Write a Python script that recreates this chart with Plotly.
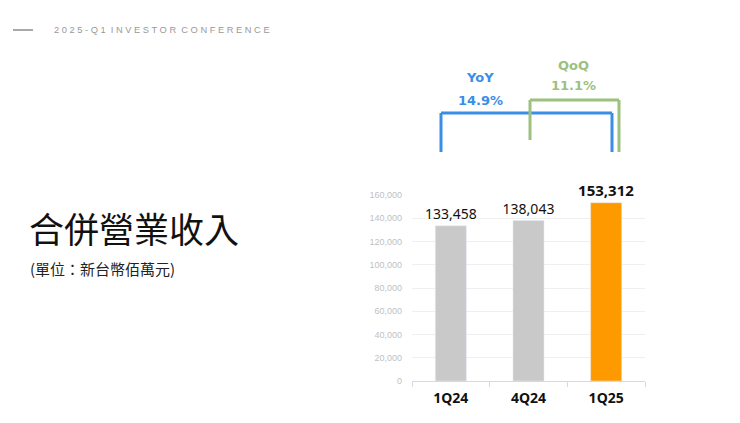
import plotly.graph_objects as go

categories = ["1Q24", "4Q24", "1Q25"]
revenue = [133458, 138043, 153312]
bar_colors = ["#c9c9c9", "#c9c9c9", "#ff9900"]
y_ticks = [0, 20000, 40000, 60000, 80000, 100000, 120000, 140000, 160000]
yoy_text = "14.9%"
qoq_text = "11.1%"

OFF = 8  # page body margin
W, H = 740 - OFF, 423 - OFF
L, R, T, B = 412 - OFF, 645 - OFF, 195 - OFF, 381 - OFF


def px(x):
    return (x - OFF - L) / (R - L)


def py(y):
    return (B - (y - OFF)) / (B - T)


labels = [f"{v:,}" for v in revenue]
label_text = [labels[0], labels[1], f"<b>{labels[2]}</b>"]

fig = go.Figure()
fig.add_trace(go.Bar(
    x=categories, y=revenue, marker_color=bar_colors, width=0.4,
    text=label_text, textposition="outside", cliponaxis=False, constraintext="none",
    textfont=dict(family="Noto Sans, Open Sans, sans-serif", size=[14, 14, 15], color="#111111"),
    hoverinfo="skip",
))

fig.update_layout(
    width=W, height=H,
    margin=dict(l=L, r=W - R, t=T, b=H - B, pad=0),
    paper_bgcolor="white", plot_bgcolor="white",
    showlegend=False,
    xaxis=dict(
        type="category", showline=True, linecolor="#d9d9d9", linewidth=1,
        ticks="outside", tickson="boundaries", ticklen=5, tickcolor="#d9d9d9",
        tickfont=dict(family="Noto Sans, Open Sans, sans-serif", size=14, color="#111111"),
        showgrid=False, ticklabelstandoff=4,
        tickvals=categories, ticktext=[f"<b>{c}</b>" for c in categories],
    ),
    yaxis=dict(
        range=[0, 160000], tickvals=y_ticks, tickformat=",",
        tickfont=dict(family="Liberation Sans, Arial, sans-serif", size=9, color="#bfbfbf"),
        gridcolor="#efefef", showline=False, zeroline=False, ticklen=0,
        ticklabelstandoff=9,
    ),
)

shapes = []
blue = "#3a8ee6"
green = "#9cc17f"
for (x0, y0, x1, y1) in [(441, 152, 441, 113), (441, 113, 612, 113), (612, 113, 612, 152)]:
    shapes.append(dict(type="line", xref="paper", yref="paper", x0=px(x0), y0=py(y0), x1=px(x1), y1=py(y1),
                       line=dict(color=blue, width=3)))
for (x0, y0, x1, y1) in [(530, 140, 530, 100), (530, 100, 619, 100), (619, 100, 619, 152)]:
    shapes.append(dict(type="line", xref="paper", yref="paper", x0=px(x0), y0=py(y0), x1=px(x1), y1=py(y1),
                       line=dict(color=green, width=3)))
shapes.append(dict(type="line", xref="paper", yref="paper", x0=px(13), y0=py(30), x1=px(33), y1=py(30),
                   line=dict(color="#8c8c8c", width=1.5)))
fig.update_layout(shapes=shapes)

ann = []


def text(x, y, s, size, color, family, xanchor="center", bold=False):
    ann.append(dict(xref="paper", yref="paper", x=px(x), y=py(y), text=f"<b>{s}</b>" if bold else s,
                    showarrow=False, xanchor=xanchor, yanchor="middle",
                    font=dict(size=size, color=color, family=family)))


vf = "DejaVu Sans, Verdana, sans-serif"
text(480, 78, "YoY", 13, blue, vf, bold=True)
text(480, 100, yoy_text, 13, blue, vf, bold=True)
text(573, 65, "QoQ", 13, green, vf, bold=True)
text(573, 85, qoq_text, 13, green, vf, bold=True)

header = "  ".join(" ".join(list(w)) for w in "2025-Q1 INVESTOR CONFERENCE".split(" "))
text(52, 30, header, 9.3, "#999999", "Liberation Sans, Arial, sans-serif", xanchor="left")
text(27, 227, "合併營業收入", 35, "#111111", "Noto Sans CJK TC, sans-serif", xanchor="left")
text(28, 268, "(單位：新台幣佰萬元)", 15, "#222222", "Noto Sans CJK TC, sans-serif", xanchor="left")
fig.update_layout(annotations=ann)

fig.write_html("out.html")
